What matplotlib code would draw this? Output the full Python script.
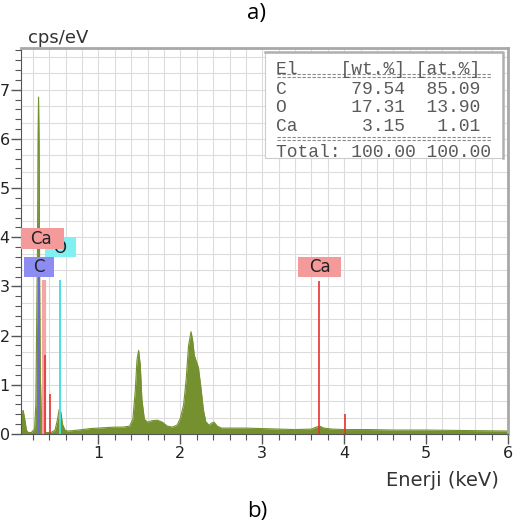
import numpy as np
import matplotlib.pyplot as plt
from matplotlib.patches import Rectangle

# spectrum (keV, cps/eV)
energy = [0.06, 0.08, 0.10, 0.12, 0.14, 0.18, 0.22, 0.235, 0.245, 0.255, 0.262, 0.268,
          0.275, 0.282, 0.29, 0.30, 0.32, 0.36, 0.42, 0.47, 0.50, 0.52, 0.54, 0.56, 0.59,
          0.62, 0.7, 0.8, 0.9, 1.0, 1.1, 1.2, 1.3, 1.38, 1.42, 1.45, 1.47, 1.49, 1.51,
          1.53, 1.56, 1.6, 1.65, 1.72, 1.78, 1.84, 1.9, 1.96, 2.0, 2.04, 2.07, 2.1, 2.13,
          2.15, 2.17, 2.2, 2.22, 2.25, 2.28, 2.31, 2.35, 2.38, 2.41, 2.45, 2.5, 2.6, 2.8,
          3.0, 3.2, 3.4, 3.6, 3.66, 3.7, 3.75, 3.85, 4.0, 4.3, 4.6, 5.0, 5.5, 6.0]
counts = [0.42, 0.48, 0.30, 0.08, 0.03, 0.03, 0.10, 0.6, 2.2, 3.8, 6.0, 6.85,
          5.9, 3.0, 1.2, 0.5, 0.1, 0.03, 0.03, 0.08, 0.3, 0.5, 0.45, 0.2, 0.08,
          0.06, 0.07, 0.09, 0.11, 0.12, 0.13, 0.14, 0.14, 0.16, 0.3, 0.9, 1.5, 1.7, 1.4,
          0.7, 0.3, 0.24, 0.27, 0.28, 0.24, 0.16, 0.14, 0.18, 0.32, 0.6, 1.1, 1.8, 2.08,
          1.9, 1.6, 1.45, 1.35, 0.95, 0.5, 0.25, 0.18, 0.22, 0.24, 0.16, 0.12, 0.12, 0.12,
          0.11, 0.10, 0.09, 0.10, 0.14, 0.16, 0.12, 0.10, 0.09, 0.09, 0.08, 0.08, 0.07, 0.06]

# element marker lines
line_energy = [0.33, 0.277, 0.341, 0.405, 0.53, 3.69, 4.01]
line_height = [3.13, 3.2, 1.6, 0.82, 3.13, 3.12, 0.41]
line_color = ['#f4a4a4', '#6a6ad8', '#e83030', '#e83030', '#48e0e0', '#e83030', '#e83030']
line_width = [3.0, 1.4, 1.2, 1.2, 1.4, 1.2, 1.2]

# element label boxes: name, x0, x1, y0, y1, text x, text y, colour
labels = [
    ('O', 0.35, 0.72, 3.60, 4.00, 0.52, 3.78, '#80f0f0'),
    ('Ca', 0.06, 0.58, 3.77, 4.18, 0.30, 3.97, '#f49a9a'),
    ('C', 0.09, 0.46, 3.20, 3.60, 0.27, 3.40, '#8c8cf2'),
    ('Ca', 3.44, 3.96, 3.19, 3.60, 3.70, 3.40, '#f49a9a'),
]

# quantification table (monospaced rows as in the picture)
tab_rows = ['El    [wt.%] [at.%]',
            'C      79.54  85.09',
            'O      17.31  13.90',
            'Ca      3.15   1.01',
            'Total: 100.00 100.00']

green = '#74902f'

fig = plt.figure(figsize=(5.19, 5.31), dpi=100)
ax = fig.add_axes([0.0414, 0.1827, 0.9374, 0.7269])

ax.set_xlim(0.06, 6.0)
ax.set_ylim(0, 7.85)

# grid
for gx in np.arange(0.2, 6.0, 0.2):
    ax.axvline(gx, color='#dcdcdc', lw=0.8, zorder=0)
for gy in np.arange(1, 24) / 3:
    ax.axhline(gy, color='#dcdcdc', lw=0.8, zorder=0)

ax.fill_between(energy, counts, 0, color=green, lw=0, zorder=2)
ax.plot(energy, counts, color=green, lw=0.8, zorder=2)

for e, h, c, w in zip(line_energy, line_height, line_color, line_width):
    ax.plot([e, e], [0, h], color=c, lw=w, zorder=3, solid_capstyle='butt')

for i, (name, x0, x1, y0, y1, tx, ty, c) in enumerate(labels):
    ax.add_patch(Rectangle((x0, y0), x1 - x0, y1 - y0, color=c, lw=0, zorder=4 + i))
    ax.text(tx, ty, name, ha='center', va='center', fontsize=12, color='#222222',
            zorder=4 + i)

# ticks and spines
ax.set_xticks(range(1, 7))
ax.set_xticks(np.arange(0.2, 6.0, 0.2), minor=True)
ax.set_yticks(range(0, 8))
ax.set_yticks(np.arange(0, 7.85, 0.2), minor=True)
ax.tick_params(which='major', length=7, width=1, color='#555555', labelsize=11.5,
               labelcolor='#222222', pad=2)
ax.tick_params(which='minor', length=4, width=0.8, color='#555555')
ax.tick_params(axis='y', pad=1.5)
for s in ['left', 'bottom']:
    ax.spines[s].set_color('#555555')
for s in ['top', 'right']:
    ax.spines[s].set_color('#a8a8a8')
    ax.spines[s].set_linewidth(2)

# table in figure pixels
tf = fig.transFigure
W, H = 519, 531
def fx(px): return px / W
def fy(py): return 1 - py / H

fig.add_artist(Rectangle((fx(265), fy(158)), fx(503) - fx(265), fy(52) - fy(158),
                         transform=tf, facecolor='white', edgecolor='#cccccc', lw=0.8,
                         zorder=5))
fig.add_artist(plt.Line2D([fx(265), fx(503), fx(503)], [fy(52), fy(52), fy(158)],
                          transform=tf, color='#b0b0b0', lw=1.8, zorder=6))
rows_y = [69, 89.5, 107, 126.5, 152.5]
for row, y in zip(tab_rows, rows_y):
    fig.text(fx(276), fy(y), row, family='Liberation Mono', fontsize=13,
             color='#5a5a5a', ha='left', va='center', zorder=7)
for y in [74, 76.8, 137.5, 140.3]:
    fig.add_artist(plt.Line2D([fx(277), fx(492)], [fy(y), fy(y)], transform=tf,
                              color='#8a8a8a', lw=0.8, ls=(0, (3, 1.5)), zorder=7))

fig.text(fx(28), fy(38), 'cps/eV', fontsize=13, color='#333333', ha='left', va='center')
fig.text(fx(499), fy(480), 'Enerji (keV)', fontsize=14, color='#333333', ha='right',
         va='center')
fig.text(fx(257), fy(14), 'a)', fontsize=16, family='Open Sans', ha='center',
         va='center')
fig.text(fx(257), fy(511), 'b)', fontsize=16, family='Open Sans', ha='center',
         va='center')

fig.savefig('out.png', dpi=100, facecolor='white')
